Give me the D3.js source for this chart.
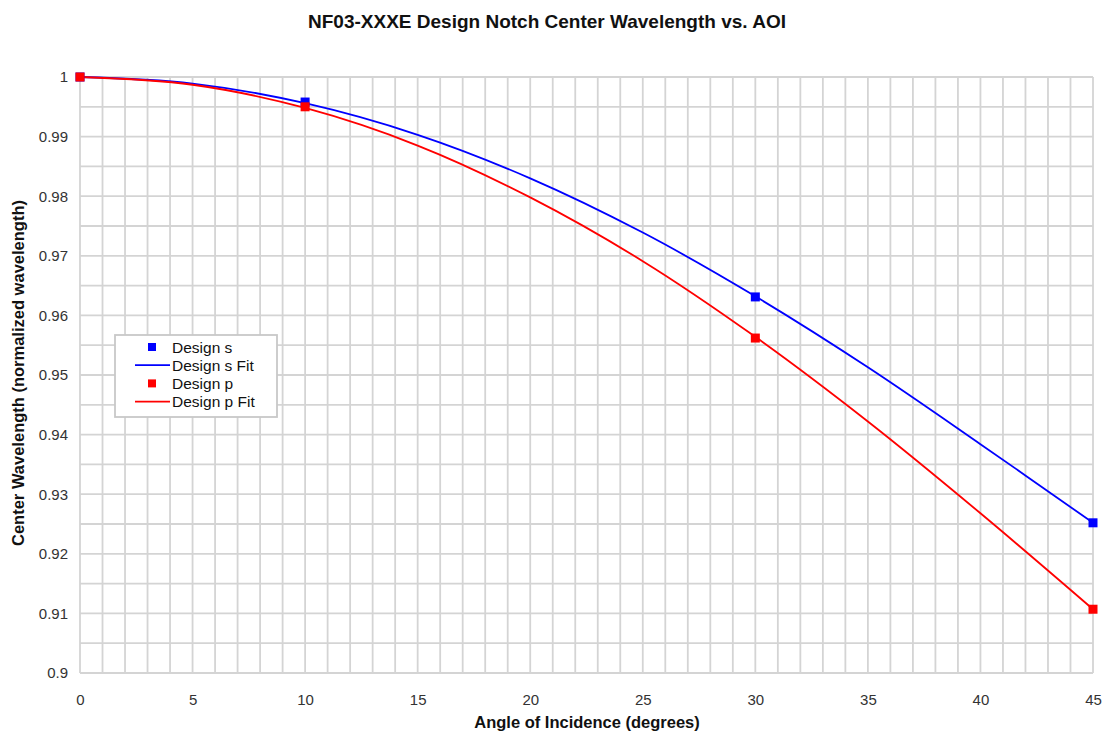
<!DOCTYPE html>
<html>
<head>
<meta charset="utf-8">
<script src="https://cdn.jsdelivr.net/npm/d3@7"></script>
<style>
  body { margin: 0; background: #fff; }
  text { font-family: Arial, "Liberation Sans", sans-serif; }
</style>
</head>
<body>
<div id="chart"></div>
<script>
// measured design points
let designAngles = [0, 10, 30, 45];
let designS = [1, 0.9958, 0.9631, 0.9252];
let designP = [1, 0.9950, 0.9562, 0.9107];

let fitAngles = [0, 5, 10, 15, 20, 25, 30, 35, 40, 45];
let fitS = [1, 0.9989, 0.9956, 0.9903, 0.9830, 0.9739, 0.9632, 0.9513, 0.9384, 0.9252];
let fitP = [1, 0.9987, 0.9948, 0.9885, 0.9798, 0.9691, 0.9564, 0.9422, 0.9268, 0.9107];

let xTicks = [0, 5, 10, 15, 20, 25, 30, 35, 40, 45];
let yTicks = [0.9, 0.91, 0.92, 0.93, 0.94, 0.95, 0.96, 0.97, 0.98, 0.99, 1];

let legendNames = ["Design s", "Design s Fit", "Design p", "Design p Fit"];

let svgW = 1102;
let svgH = 738;

let margin = { left: 80, right: 9, top: 77, bottom: 65 };
let chartW = svgW - margin.left - margin.right;
let chartH = svgH - margin.top - margin.bottom;

let x = d3.scaleLinear().domain([0, 45]).range([0, chartW]);
let y = d3.scaleLinear().domain([0.9, 1]).range([chartH, 0]);

let svg = d3.select("#chart")
  .append("svg")
  .attr("width", svgW)
  .attr("height", svgH);

svg.append("text")
  .attr("x", 547)
  .attr("y", 28)
  .attr("text-anchor", "middle")
  .style("font-size", "19px")
  .style("font-weight", "bold")
  .attr("fill", "#111")
  .text("NF03-XXXE Design Notch Center Wavelength vs. AOI");

let group = svg.append("g")
  .attr("transform", `translate(${margin.left},${margin.top})`);

// grid: every degree, every 0.005
let gridColor = "#d4d4d4";
group.append("g")
  .selectAll("line")
  .data(d3.range(0, 46))
  .enter()
  .append("line")
  .attr("x1", d => x(d)).attr("x2", d => x(d))
  .attr("y1", 0).attr("y2", chartH)
  .attr("stroke", gridColor)
  .attr("stroke-width", 1.8);

group.append("g")
  .selectAll("line")
  .data(d3.range(0, 21).map(i => 0.9 + i * 0.005))
  .enter()
  .append("line")
  .attr("x1", 0).attr("x2", chartW)
  .attr("y1", d => y(d)).attr("y2", d => y(d))
  .attr("stroke", gridColor)
  .attr("stroke-width", 1.8);

// axes (labels only)
let xAxis = d3.axisBottom(x).tickValues(xTicks).tickSize(0).tickPadding(21).tickFormat(d3.format("d"));
let yAxis = d3.axisLeft(y).tickValues(yTicks).tickSize(0).tickPadding(12).tickFormat(d => d3.format("")(+d.toFixed(2)));

let gx = group.append("g")
  .attr("transform", `translate(0,${chartH})`)
  .call(xAxis);
let gy = group.append("g").call(yAxis);
[gx, gy].forEach(g => {
  g.select(".domain").remove();
  g.selectAll("text")
    .style("font-size", "15px")
    .attr("fill", "#333");
});

svg.append("text")
  .attr("x", 587)
  .attr("y", 728)
  .attr("text-anchor", "middle")
  .style("font-size", "16.5px")
  .style("font-weight", "bold")
  .attr("fill", "#111")
  .text("Angle of Incidence (degrees)");

svg.append("text")
  .attr("transform", "translate(24,373) rotate(-90)")
  .attr("text-anchor", "middle")
  .style("font-size", "16.5px")
  .style("font-weight", "bold")
  .attr("fill", "#111")
  .text("Center Wavelength (normalized wavelength)");

// fit lines
let line = d3.line()
  .x(d => x(d[0]))
  .y(d => y(d[1]))
  .curve(d3.curveCatmullRom);

let blue = "#0000ff";
let red = "#ff0000";

group.append("path")
  .datum(fitAngles.map((a, i) => [a, fitS[i]]))
  .attr("d", line)
  .attr("fill", "none")
  .attr("stroke", blue)
  .attr("stroke-width", 1.8);

group.append("path")
  .datum(fitAngles.map((a, i) => [a, fitP[i]]))
  .attr("d", line)
  .attr("fill", "none")
  .attr("stroke", red)
  .attr("stroke-width", 1.8);

let sz = 9;
group.append("g")
  .selectAll("rect")
  .data(designAngles.map((a, i) => [a, designS[i]]))
  .enter()
  .append("rect")
  .attr("x", d => x(d[0]) - sz / 2)
  .attr("y", d => y(d[1]) - sz / 2)
  .attr("width", sz).attr("height", sz)
  .attr("fill", blue);

group.append("g")
  .selectAll("rect")
  .data(designAngles.map((a, i) => [a, designP[i]]))
  .enter()
  .append("rect")
  .attr("x", d => x(d[0]) - sz / 2)
  .attr("y", d => y(d[1]) - sz / 2)
  .attr("width", sz).attr("height", sz)
  .attr("fill", red);

// legend
let legend = svg.append("g").attr("transform", "translate(115,335)");
legend.append("rect")
  .attr("width", 162).attr("height", 82)
  .attr("fill", "#fff")
  .attr("stroke", "#c8c8c8")
  .attr("stroke-width", 1.8);

let legendColors = [blue, blue, red, red];
legendNames.forEach((name, i) => {
  let ly = 12 + i * 18.2;
  if (i % 2 === 0) {
    legend.append("rect")
      .attr("x", 37 - 4).attr("y", ly - 4)
      .attr("width", 8).attr("height", 8)
      .attr("fill", legendColors[i]);
  } else {
    legend.append("line")
      .attr("x1", 20).attr("x2", 55)
      .attr("y1", ly).attr("y2", ly)
      .attr("stroke", legendColors[i])
      .attr("stroke-width", 1.8);
  }
  legend.append("text")
    .attr("x", 57)
    .attr("y", ly + 5.5)
    .style("font-size", "15.5px")
    .attr("fill", "#111")
    .text(name);
});
</script>
</body>
</html>
